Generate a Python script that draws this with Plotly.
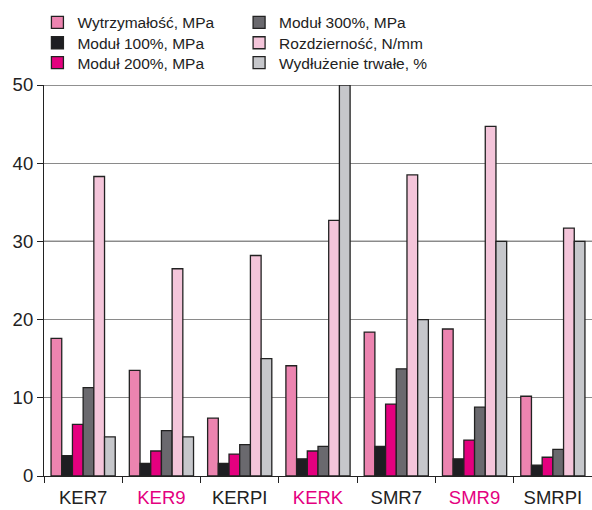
import plotly.graph_objects as go

categories = ["KER7", "KER9", "KERPI", "KERK", "SMR7", "SMR9", "SMRPI"]
label_colors = ["#222222", "#E4007F", "#222222", "#E4007F", "#222222", "#E4007F", "#222222"]

wytrzymalosc = [17.6, 13.5, 7.4, 14.1, 18.4, 18.8, 10.2]
modul100 = [2.6, 1.6, 1.6, 2.2, 3.8, 2.2, 1.4]
modul200 = [6.6, 3.2, 2.8, 3.2, 9.2, 4.6, 2.4]
modul300 = [11.3, 5.8, 4.0, 3.8, 13.7, 8.8, 3.4]
rozdziernosc = [38.3, 26.5, 28.2, 32.7, 38.5, 44.7, 31.7]
wydluzenie = [5, 5, 15, 50, 20, 30, 30]

series_names = ["Wytrzymałość, MPa", "Moduł 100%, MPa", "Moduł 200%, MPa",
                "Moduł 300%, MPa", "Rozdzierność, N/mm", "Wydłużenie trwałe, %"]
series_values = [wytrzymalosc, modul100, modul200, modul300, rozdziernosc, wydluzenie]
series_colors = ["#EC84B0", "#1E1E22", "#E4007F", "#6A696E", "#F4C5DA", "#C6C7CB"]

# legend placement: two columns, three rows
leg_x = [-0.012, -0.012, -0.012, 0.356, 0.356, 0.356]
leg_y = [1.159, 1.107, 1.056, 1.159, 1.107, 1.056]

fig = go.Figure()
legends = {}
for i, (name, vals, color) in enumerate(zip(series_names, series_values, series_colors)):
    key = "legend" if i == 0 else f"legend{i + 1}"
    fig.add_trace(go.Bar(
        x=categories, y=vals, name=name, legend=key,
        marker=dict(color=color, line=dict(color="#222222", width=1.3)),
    ))
    legends[key] = dict(x=leg_x[i], y=leg_y[i], xanchor="left", yanchor="middle",
                        font=dict(size=15.5, color="#222222"),
                        bgcolor="rgba(0,0,0,0)", borderwidth=0)

ticktext = [f'<span style="color:{c}">{t}</span>' for t, c in zip(categories, label_colors)]

font = "Liberation Sans, Arial, sans-serif"
fig.update_layout(
    width=592, height=510,
    margin=dict(l=44, r=0, t=85, b=34),
    paper_bgcolor="white", plot_bgcolor="white",
    barmode="group", bargap=0.18, bargroupgap=0,
    font=dict(family=font, size=17, color="#222222"),
    showlegend=True,
    xaxis=dict(
        type="category", tickmode="array", tickvals=categories, ticktext=ticktext,
        tickson="boundaries", ticks="outside", ticklen=6, tickcolor="#222222",
        showline=True, linecolor="#222222", linewidth=1.2, showgrid=False,
        tickfont=dict(size=18.5), ticklabelstandoff=5, automargin=False,
    ),
    yaxis=dict(
        range=[0, 50], dtick=10, ticks="outside", ticklen=6, tickcolor="#222222",
        showline=True, linecolor="#222222", linewidth=1.2,
        showgrid=True, gridcolor="#8a8a8a", gridwidth=1.2, zeroline=False,
        tickfont=dict(size=18.5), automargin=False,
    ),
    shapes=[
        dict(type="line", xref="paper", yref="y", x0=0, x1=1, y0=v, y1=v,
             line=dict(color="#222222", width=1.2), layer="below")
        for v in (30, 50)
    ],
)
fig.update_layout(**legends)

fig.write_html("out.html", config={"displayModeBar": False},
               post_script="document.body.style.margin='0';document.body.style.padding='0';")
